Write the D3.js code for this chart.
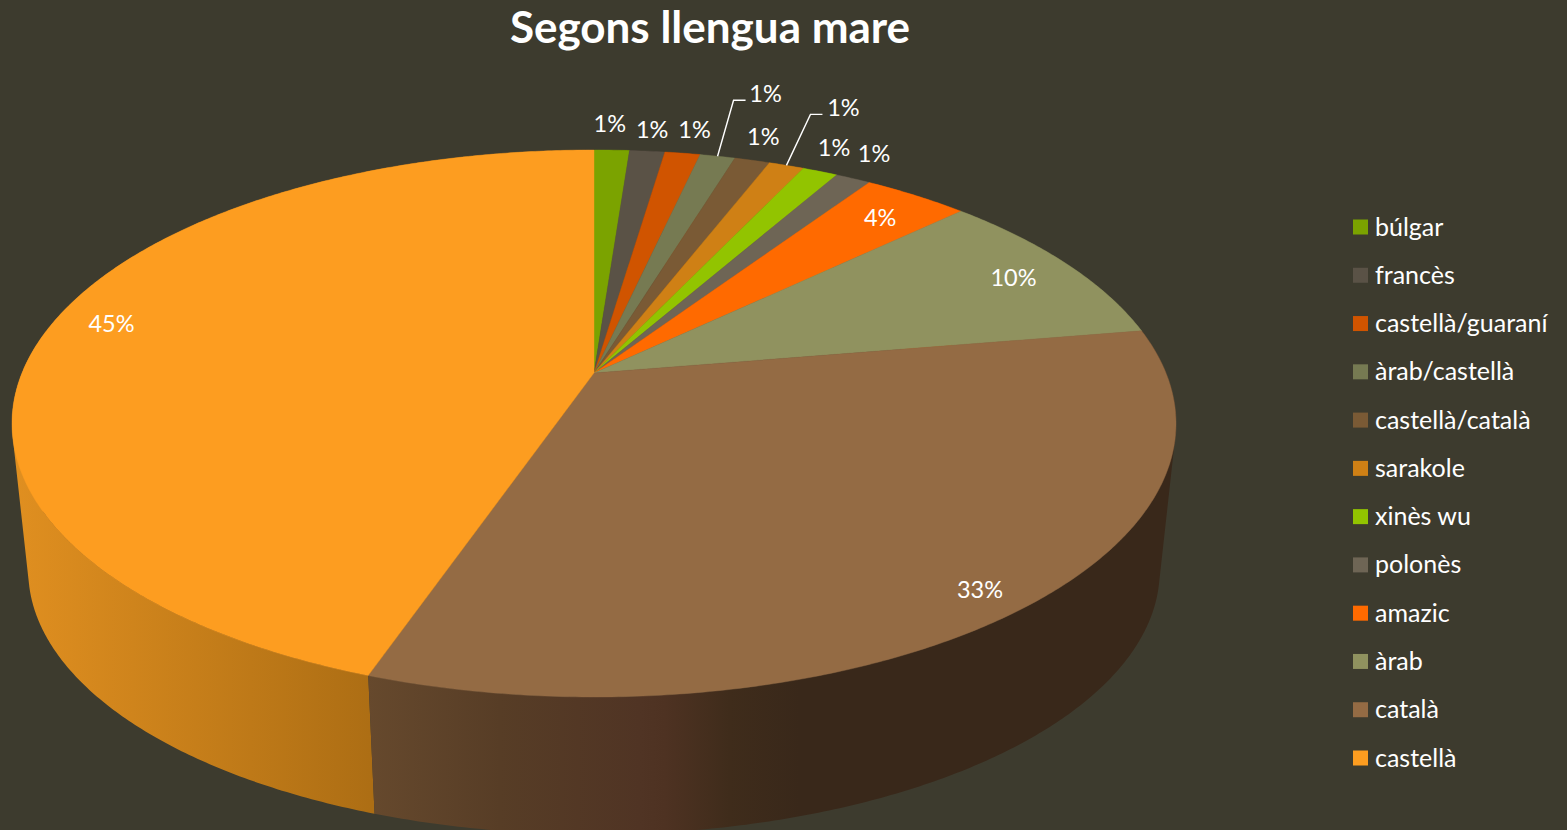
<!DOCTYPE html>
<html>
<head>
<meta charset="utf-8">
<style>html,body{margin:0;padding:0;background:#3d3b2e;overflow:hidden}svg{display:block}</style>
<script src="https://cdn.jsdelivr.net/npm/d3@7/dist/d3.min.js"></script>
</head>
<body>
<svg id="c" width="1567" height="830"></svg>
<script>
const titleText = "Segons llengua mare";
const categories = ["búlgar","francès","castellà/guaraní","àrab/castellà","castellà/català","sarakole","xinès wu","polonès","amazic","àrab","català","castellà"];
const percentages = [1.17,1.17,1.17,1.17,1.17,1.17,1.17,1.17,3.5,9.5,32.9,44.7];
const colors = ["#7ba300","#5a5246","#d05400","#767a52","#7a5a35","#cf8015","#92c400","#6e6555","#ff6a00","#90925f","#946b44","#fd9d20"];
// label placement relative to the slice's rim point
const labelDx = [-2,5,12,48,11,57,14,21,-36,-53,-44,65];
const labelDy = [-26,-21,-23,-62,-23,-57,-23,-25,22,14,-18,-7];
const leaderSlices = [3,5];
const leaderElbowDx = {3:16,5:24}, leaderElbowDy = {3:-56,5:-51}, leaderRun = 12;
// shaded wall colours along x
const castellaWallX = [14,370], castellaWallC = ["#e08f20","#ad6e14"];
const catalaWallX = [368,500,640,665,730,800], catalaWallC = ["#66492d","#573d26","#503424","#4e3222","#3f2c1b","#39281a"];

const W = 1567, H = 830;
const svg = d3.select("#c");
svg.append("rect").attr("width",W).attr("height",H).attr("fill","#3d3b2e");
const defs = svg.append("defs");
const FONT = "Lato, 'Open Sans', sans-serif";

// perspective projection of a unit disc
const persp = 0.1846;
const topDisc = {cx:594, cy:373, R:572, A:264.2};
const botDisc = {cx:594, cy:522, R:556, A:254.7};
function project(d, theta){
  const u = Math.sin(theta), v = -Math.cos(theta), w = 1 - persp*v;
  return [d.cx + d.R*u/w, d.cy + d.A*v/w];
}
const pie = d3.pie().sort(null).value(d=>d)(percentages);
pie.sort((a,b)=>a.index-b.index);
const STEP = Math.PI/360;
function angles(a0,a1){
  const n = Math.max(2,Math.ceil((a1-a0)/STEP));
  return d3.range(n+1).map(i=>a0+(a1-a0)*i/n);
}
const line = d3.line();

// walls
function wallPath(a0,a1){
  const as = angles(a0,a1); let out = "";
  for(let i=0;i<as.length-1;i++){
    let q = [project(topDisc,as[i]),project(topDisc,as[i+1]),project(botDisc,as[i+1]),project(botDisc,as[i])];
    if(d3.polygonArea(q)<0) q.reverse();
    out += line(q)+"Z";
  }
  return out;
}
function gradient(id,xs,cs){
  const g = defs.append("linearGradient").attr("id",id).attr("gradientUnits","userSpaceOnUse")
    .attr("x1",xs[0]).attr("x2",xs[xs.length-1]).attr("y1",0).attr("y2",0);
  xs.forEach((x,i)=>g.append("stop").attr("offset",(x-xs[0])/(xs[xs.length-1]-xs[0])).attr("stop-color",cs[i]));
}
gradient("wallCastella",castellaWallX,castellaWallC);
gradient("wallCatala",catalaWallX,catalaWallC);
const wallFill = i => i===11 ? "url(#wallCastella)" : i===10 ? "url(#wallCatala)" : d3.color(colors[i]).darker(1.2);
svg.append("g").selectAll("path").data(pie.slice().reverse()).join("path")
  .attr("d",d=>wallPath(d.startAngle,d.endAngle))
  .attr("fill",d=>wallFill(d.index));

// top face
svg.append("g").selectAll("path").data(pie).join("path")
  .attr("d",d=>line([[topDisc.cx,topDisc.cy],...angles(d.startAngle,d.endAngle).map(a=>project(topDisc,a))])+"Z")
  .attr("fill",d=>colors[d.index])
  .attr("stroke",d=>colors[d.index]).attr("stroke-width",0.4).attr("stroke-linejoin","round");

// leaders
svg.append("g").selectAll("path").data(leaderSlices).join("path")
  .attr("d",i=>{
    const p = project(topDisc,(pie[i].startAngle+pie[i].endAngle)/2);
    const e = [p[0]+leaderElbowDx[i],p[1]+leaderElbowDy[i]];
    return line([p,e,[e[0]+leaderRun,e[1]]]);
  })
  .attr("fill","none").attr("stroke","#fff").attr("stroke-width",1.4);

// data labels
svg.append("g").selectAll("text").data(pie).join("text")
  .attr("x",d=>project(topDisc,(d.startAngle+d.endAngle)/2)[0]+labelDx[d.index])
  .attr("y",d=>project(topDisc,(d.startAngle+d.endAngle)/2)[1]+labelDy[d.index]+8)
  .attr("text-anchor","middle").attr("fill","#fff")
  .attr("font-family",FONT).attr("font-size",23.5)
  .text(d=>Math.round(d.data)+"%");

// title
svg.append("text").attr("x",710).attr("y",43).attr("text-anchor","middle")
  .attr("fill","#fff").attr("font-family",FONT).attr("font-weight",700).attr("font-size",44).text(titleText);

// legend
const ly = d3.scalePoint().domain(categories).range([227,758]);
const lg = svg.append("g").selectAll("g").data(categories).join("g")
  .attr("transform",d=>`translate(0,${ly(d)})`);
lg.append("rect").attr("x",1353).attr("y",-7.5).attr("width",15).attr("height",15).attr("fill",(d,i)=>colors[i]);
lg.append("text").attr("x",1375).attr("y",8.5).attr("fill","#fff")
  .attr("font-family",FONT).attr("font-size",25).text(d=>d);
</script>
</body>
</html>
